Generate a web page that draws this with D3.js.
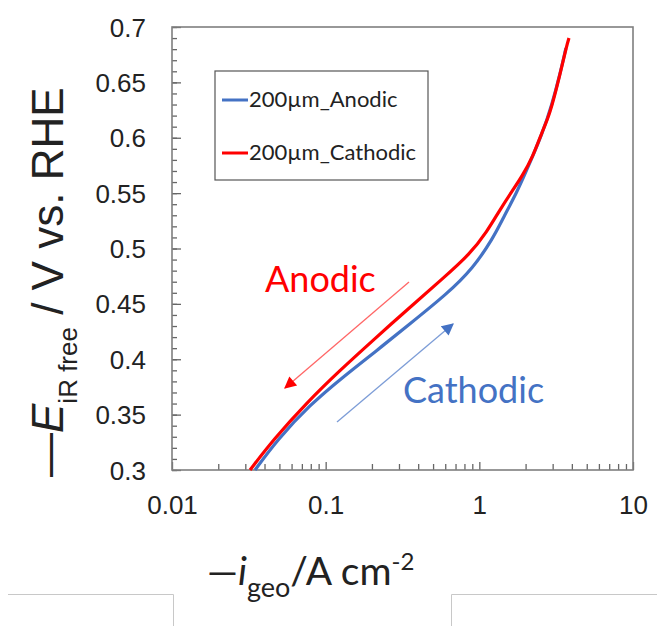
<!DOCTYPE html>
<html>
<head>
<meta charset="utf-8">
<script src="https://cdn.jsdelivr.net/npm/d3@7"></script>
<style>
  body { margin: 0; background: #fff; }
  svg { display: block; }
  .tick-label { font-family: "Liberation Sans", Arial, sans-serif; fill: #222; }
</style>
</head>
<body>
<div id="chart"></div>
<script>
// Tafel-style polarisation curves, 200 µm electrode, anodic vs cathodic sweep.
const anodicCurrent = [0.0347, 0.0482, 0.0791, 0.1296, 0.2157, 0.3536, 0.6155, 0.9083, 1.226, 1.424, 1.757, 1.98, 2.594, 2.967, 3.345, 3.66];
const anodicPotential = [0.300, 0.327, 0.359, 0.384, 0.408, 0.432, 0.459, 0.482, 0.509, 0.527, 0.551, 0.567, 0.605, 0.630, 0.657, 0.681];

const cathodicCurrent = [0.0322, 0.0454, 0.0756, 0.1239, 0.203, 0.3536, 0.58, 0.869, 1.12, 1.362, 1.655, 1.893, 2.233, 2.554, 2.879, 3.345, 3.715, 3.83];
const cathodicPotential = [0.300, 0.327, 0.361, 0.390, 0.417, 0.447, 0.473, 0.495, 0.515, 0.535, 0.553, 0.565, 0.583, 0.605, 0.621, 0.657, 0.684, 0.690];

const xTicks = [0.01, 0.1, 1, 10];
const xTickLabels = ["0.01", "0.1", "1", "10"];
const yTicks = [0.3, 0.35, 0.4, 0.45, 0.5, 0.55, 0.6, 0.65, 0.7];

const seriesNames = ["200µm_Anodic", "200µm_Cathodic"];
const blue = "#4472c4";
const red = "#ff0000";

const width = 657, height = 626;
const svg = d3.select("#chart").append("svg").attr("width", width).attr("height", height);

const x = d3.scaleLog().domain([0.01, 10]).range([172, 633]);
const y = d3.scaleLinear().domain([0.3, 0.7]).range([470, 27]);

// minor ticks
const xMinor = [];
[0.01, 0.1, 1].forEach((d) => { for (let k = 2; k <= 9; k++) xMinor.push(d * k); });
const yMinor = d3.range(0.3, 0.7001, 0.01).map((d) => +d.toFixed(2));

const axes = svg.append("g");

axes.append("g")
  .attr("transform", `translate(0,${y(0.3)})`)
  .call(d3.axisBottom(x).tickValues(xMinor).tickSize(-6).tickFormat(""))
  .call((g) => g.select(".domain").remove())
  .call((g) => g.selectAll("line").attr("stroke", "#666").attr("stroke-width", 1.3));

axes.append("g")
  .attr("transform", `translate(0,${y(0.3)})`)
  .call(d3.axisBottom(x).tickValues(xTicks).tickSize(-8).tickFormat((d, i) => xTickLabels[i]))
  .call((g) => g.select(".domain").remove())
  .call((g) => g.selectAll("line").attr("stroke", "#666").attr("stroke-width", 1.3))
  .call((g) => g.selectAll("text")
    .attr("class", "tick-label")
    .attr("y", 44).attr("dy", null)
    .style("font-size", "26px"));

axes.append("g")
  .attr("transform", `translate(${x(0.01)},0)`)
  .call(d3.axisLeft(y).tickValues(yMinor).tickSize(-5).tickFormat(""))
  .call((g) => g.select(".domain").remove())
  .call((g) => g.selectAll("line").attr("stroke", "#666").attr("stroke-width", 1.3));

axes.append("g")
  .attr("transform", `translate(${x(0.01)},0)`)
  .call(d3.axisLeft(y).tickValues(yTicks).tickSize(-9).tickFormat((d) => String(d)))
  .call((g) => g.select(".domain").remove())
  .call((g) => g.selectAll("line").attr("stroke", "#666").attr("stroke-width", 1.3))
  .call((g) => g.selectAll("text")
    .attr("class", "tick-label")
    .attr("x", -26).attr("dy", "0.35em")
    .style("font-size", "26px"));

// frame
svg.append("rect")
  .attr("x", x(0.01)).attr("y", y(0.7))
  .attr("width", x(10) - x(0.01)).attr("height", y(0.3) - y(0.7))
  .attr("fill", "none").attr("stroke", "#7f7f7f").attr("stroke-width", 1.6);

// curves
const line = d3.line().x((d) => x(d[0])).y((d) => y(d[1])).curve(d3.curveBasis);
const plot = svg.append("g");
plot.append("path")
  .datum(d3.zip(anodicCurrent, anodicPotential))
  .attr("d", line).attr("fill", "none").attr("stroke", blue).attr("stroke-width", 3.2);
plot.append("path")
  .datum(d3.zip(cathodicCurrent, cathodicPotential))
  .attr("d", line).attr("fill", "none").attr("stroke", red).attr("stroke-width", 3.2);

// legend
const legend = svg.append("g");
legend.append("rect")
  .attr("x", 215).attr("y", 71).attr("width", 213).attr("height", 109)
  .attr("fill", "#fff").attr("stroke", "#555").attr("stroke-width", 1.2);
[blue, red].forEach((c, i) => {
  const ly = 100 + i * 53;
  legend.append("line").attr("x1", 222).attr("x2", 248).attr("y1", ly).attr("y2", ly)
    .attr("stroke", c).attr("stroke-width", 3);
  legend.append("text").attr("x", 249).attr("y", ly + 7)
    .style("font-family", "Lato, 'Open Sans', sans-serif").style("font-size", "22px")
    .attr("fill", "#222").text(seriesNames[i]);
});

// direction annotations
const defs = svg.append("defs");
[["headRed", red], ["headBlue", blue]].forEach(([id, c]) => {
  defs.append("marker").attr("id", id).attr("viewBox", "0 0 10 10")
    .attr("refX", 9).attr("refY", 5).attr("markerWidth", 14).attr("markerHeight", 12)
    .attr("markerUnits", "userSpaceOnUse").attr("orient", "auto")
    .append("path").attr("d", "M0,0 L10,5 L0,10 Z").attr("fill", c);
});
svg.append("line").attr("x1", 409).attr("y1", 282).attr("x2", 285).attr("y2", 388)
  .attr("stroke", red).attr("stroke-opacity", 0.6).attr("stroke-width", 1.3).attr("marker-end", "url(#headRed)");
svg.append("line").attr("x1", 337).attr("y1", 422).attr("x2", 453).attr("y2", 324)
  .attr("stroke", blue).attr("stroke-opacity", 0.7).attr("stroke-width", 1.3).attr("marker-end", "url(#headBlue)");

svg.append("text").attr("x", 265).attr("y", 292).attr("fill", red)
  .style("font-family", "Lato, sans-serif").style("font-size", "36px").text("Anodic");
svg.append("text").attr("x", 403).attr("y", 403).attr("fill", blue)
  .style("font-family", "Lato, sans-serif").style("font-size", "36px").text("Cathodic");

// axis titles
const yTitle = svg.append("text")
  .attr("transform", "translate(63,477) rotate(-90)")
  .style("font-family", "'Liberation Sans', Arial, sans-serif").style("font-size", "44px")
  .attr("fill", "#222");
yTitle.append("tspan").text("\u2014");
yTitle.append("tspan").style("font-style", "italic").text("E");
yTitle.append("tspan").attr("dy", 14).style("font-size", "26px").text("iR free");
yTitle.append("tspan").attr("dy", -14).text(" / V vs. RHE");

const xTitle = svg.append("text")
  .attr("x", 207).attr("y", 585)
  .style("font-family", "Lato, sans-serif").style("font-size", "39px")
  .attr("fill", "#222");
xTitle.append("tspan").text("\u2014");
xTitle.append("tspan").style("font-style", "italic").text("i");
xTitle.append("tspan").attr("dy", 12).style("font-size", "27px").text("geo");
xTitle.append("tspan").attr("dy", -12).text("/A cm");
xTitle.append("tspan").attr("dy", -15).style("font-size", "24px").text("-2");

// leftover page borders at the bottom edge of the screenshot
const border = svg.append("g").attr("stroke", "#c8c8c8").attr("stroke-width", 1).attr("fill", "none");
border.append("path").attr("d", "M8,594.5 H173.5 V626");
border.append("path").attr("d", "M451.5,626 V594.5 H657");
</script>
</body>
</html>
